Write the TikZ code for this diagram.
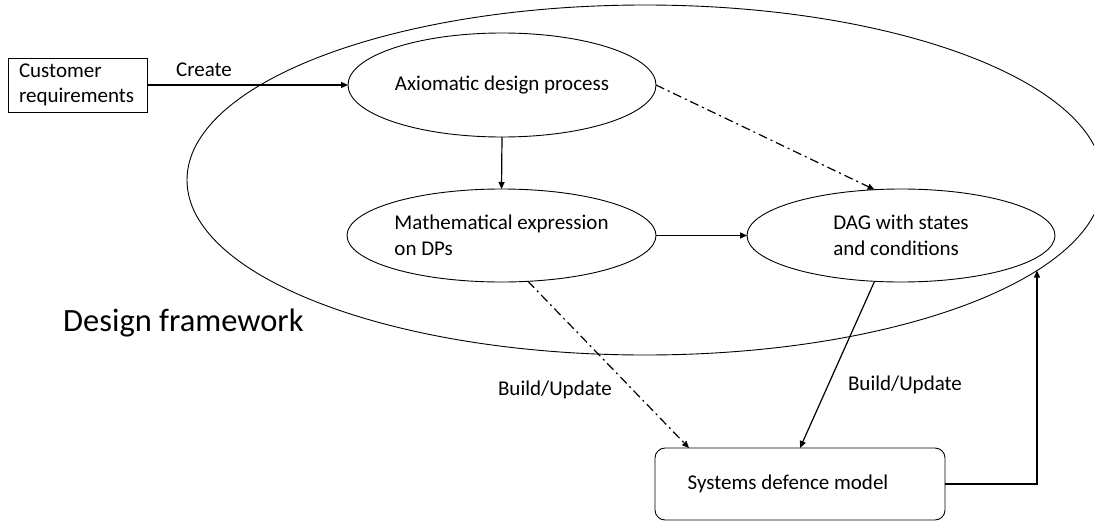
\documentclass[tikz,border=0pt]{standalone}
\usepackage{fontspec}
\setmainfont{Carlito}
\usetikzlibrary{arrows.meta,shapes.geometric,calc}
\begin{document}
\begin{tikzpicture}[x=1pt,y=-1pt,
  every node/.style={font=\fontsize{21}{25.6}\selectfont},
  oval/.style={draw,ellipse,inner sep=0pt,outer sep=0pt,line width=0.9pt,align=left},
  arr/.style={line width=1.2pt,-{Triangle[length=7pt,width=6pt]}},
  dd/.style={arr,dash pattern=on 9pt off 4pt on 2pt off 4pt},
  lbl/.style={inner sep=0pt}]
\useasboundingbox (0,0) rectangle (1094,522);
\node[draw,ellipse,inner sep=0pt,outer sep=0pt,line width=0.9pt,minimum width=916pt,minimum height=350pt] (frame) at (645,180) {};
\node[draw,rectangle,line width=0.9pt,inner xsep=11pt,inner ysep=0pt,outer sep=0pt,minimum height=54pt,text width=117pt,align=left] (cust) at (77.5,85) {Customer\\requirements};
\node[oval,minimum width=308pt,minimum height=104pt] (ax) at (502,85) {Axiomatic design process};
\node[oval,minimum width=309pt,minimum height=93pt] (math) at (501.5,235.5) {Mathematical expression\\on DPs};
\node[oval,minimum width=308pt,minimum height=93pt] (dag) at (901,235.5) {DAG with states\\and conditions};
\node[draw,rounded corners=10pt,line width=0.9pt,inner sep=0pt,outer sep=0pt,minimum width=290pt,minimum height=72pt] (box) at (800,484) {Systems defence model\hspace*{24pt}};
\node[lbl] (create) at (204,70) {Create};
\node[lbl] (bu1) at (555,390) {Build/Update};
\node[lbl] (bu2) at (905,385) {Build/Update};
\node[lbl,anchor=base west,font=\fontsize{32.5}{39}\selectfont] (df) at (63,331) {Design framework};
\draw[arr] (cust.east) -- (ax.west);
\draw[arr] (ax.south) -- (math.north);
\draw[arr] (math.east) -- (dag.west);
\draw[dd] (ax.east) -- (dag.120);
\draw[dd] (math.-60) -- ($(box.north west)+(34,0)$);
\draw[arr] (dag.-120) -- (box.north);
\draw[arr] (box.east) -| (frame.-13.1);
\end{tikzpicture}
\end{document}
